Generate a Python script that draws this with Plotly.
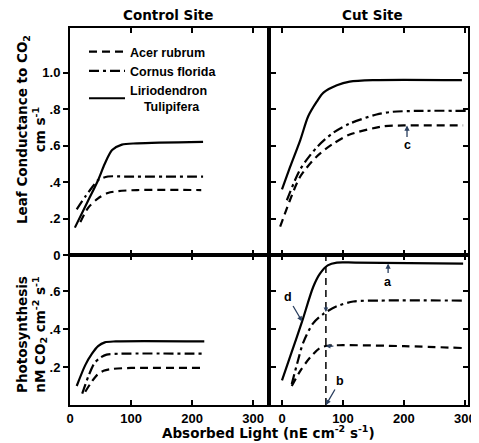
import plotly.graph_objects as go

# ---------------- data ----------------
species = ["Acer rubrum", "Cornus florida", "Liriodendron<br>\u00a0\u00a0\u00a0\u00a0Tulipifera"]

# Control site, leaf conductance
ctl_cond_acer_x = [17, 30, 46, 62, 79, 110, 215]
ctl_cond_acer_y = [0.18, 0.26, 0.31, 0.34, 0.35, 0.356, 0.356]
ctl_cond_corn_x = [11, 25, 36, 46, 62, 90, 218]
ctl_cond_corn_y = [0.25, 0.32, 0.37, 0.41, 0.43, 0.43, 0.43]
ctl_cond_lir_x = [8, 30, 46, 57, 69, 85, 110, 218]
ctl_cond_lir_y = [0.15, 0.30, 0.41, 0.50, 0.575, 0.605, 0.612, 0.62]

# Cut site, leaf conductance
cut_cond_acer_x = [-3, 13, 30, 57, 84, 111, 166, 200, 297]
cut_cond_acer_y = [0.155, 0.30, 0.43, 0.54, 0.61, 0.66, 0.705, 0.71, 0.71]
cut_cond_corn_x = [8, 30, 57, 84, 111, 155, 182, 230, 303]
cut_cond_corn_y = [0.30, 0.47, 0.59, 0.67, 0.72, 0.77, 0.785, 0.79, 0.79]
cut_cond_lir_x = [0, 13, 30, 43, 57, 68, 90, 111, 150, 295]
cut_cond_lir_y = [0.36, 0.48, 0.63, 0.76, 0.84, 0.89, 0.93, 0.95, 0.958, 0.958]

# Control site, photosynthesis
ctl_ps_acer_x = [25, 35, 45, 55, 70, 100, 217]
ctl_ps_acer_y = [0.07, 0.12, 0.16, 0.18, 0.19, 0.195, 0.195]
ctl_ps_corn_x = [20, 30, 40, 50, 60, 80, 217]
ctl_ps_corn_y = [0.06, 0.15, 0.22, 0.25, 0.265, 0.27, 0.27]
ctl_ps_lir_x = [11, 25, 36, 46, 57, 75, 220]
ctl_ps_lir_y = [0.10, 0.21, 0.27, 0.31, 0.33, 0.335, 0.335]

# Cut site, photosynthesis
cut_ps_acer_x = [16, 30, 46, 62, 75, 100, 200, 297]
cut_ps_acer_y = [0.10, 0.18, 0.25, 0.30, 0.312, 0.315, 0.31, 0.30]
cut_ps_corn_x = [16, 25, 35, 51, 68, 90, 117, 160, 297]
cut_ps_corn_y = [0.11, 0.22, 0.33, 0.43, 0.48, 0.52, 0.545, 0.55, 0.55]
cut_ps_lir_x = [0, 15, 33, 51, 62, 75, 90, 120, 297]
cut_ps_lir_y = [0.13, 0.27, 0.44, 0.62, 0.69, 0.735, 0.75, 0.75, 0.745]

# vertical reference line (cut site photosynthesis)
ref_light = 72
ref_line_y = [0, 0.78]

# tick labels
x_ticks = [0, 100, 200, 300]
cond_ticks = [0, 0.2, 0.4, 0.6, 0.8, 1.0]
cond_ticktext = ["0", ".2", ".4", ".6", ".8", "1.0"]
ps_ticks = [0.2, 0.4, 0.6]
ps_ticktext = [".2", ".4", ".6"]

# ---------------- figure ----------------
# The page body has an 8px margin, so the figure is drawn 8px in from the window.
OFF = 8
W, H = 479 - OFF, 443 - OFF
FONT = "Liberation Sans"
TFONT = "DejaVu Sans"


def px(x):
    return (x - OFF) / W


def py(y):
    return 1 - (y - OFF) / H


dash_style = "8px,5px"
dashdot_style = "10px,4px,3px,4px"
styles = [dash_style, dashdot_style, "solid"]

fig = go.Figure()

panels = [
    ("x3", "y3", [(ctl_cond_acer_x, ctl_cond_acer_y), (ctl_cond_corn_x, ctl_cond_corn_y), (ctl_cond_lir_x, ctl_cond_lir_y)], True),
    ("x4", "y4", [(cut_cond_acer_x, cut_cond_acer_y), (cut_cond_corn_x, cut_cond_corn_y), (cut_cond_lir_x, cut_cond_lir_y)], False),
    ("x", "y", [(ctl_ps_acer_x, ctl_ps_acer_y), (ctl_ps_corn_x, ctl_ps_corn_y), (ctl_ps_lir_x, ctl_ps_lir_y)], False),
    ("x2", "y2", [(cut_ps_acer_x, cut_ps_acer_y), (cut_ps_corn_x, cut_ps_corn_y), (cut_ps_lir_x, cut_ps_lir_y)], False),
]
for xa, ya, series, show in panels:
    for name, (xs, ys), st in zip(species, series, styles):
        fig.add_trace(go.Scatter(
            x=xs, y=ys, mode="lines", name=name, showlegend=show,
            line=dict(color="black", width=2.2, dash=st, shape="spline", smoothing=0.8),
            xaxis=xa, yaxis=ya,
        ))

fig.add_trace(go.Scatter(
    x=[ref_light, ref_light], y=ref_line_y, mode="lines", showlegend=False,
    line=dict(color="black", width=1.5, dash="7px,5px"), xaxis="x2", yaxis="y2",
))

xl = [px(70), px(269)]
xr = [px(269), px(468)]
yb = [py(405), py(255)]
yt = [py(255), py(28)]

common = dict(showline=True, linecolor="black", linewidth=2, mirror="ticks",
              showgrid=False, zeroline=False, ticklen=5, tickwidth=1.5,
              tickcolor="black",
              tickfont=dict(family=FONT, size=13, color="black", weight="bold"))

fig.update_layout(
    width=W, height=H,
    margin=dict(l=0, r=0, t=0, b=0, autoexpand=False),
    plot_bgcolor="white", paper_bgcolor="white",
    font=dict(family=FONT, color="black", size=12, weight="bold"),
    xaxis=dict(domain=xl, anchor="y", range=[0, 326], tickvals=x_ticks, ticks="inside", **common),
    yaxis=dict(domain=yb, anchor="x", range=[0, 0.79], tickvals=ps_ticks, ticktext=ps_ticktext, ticks="outside", **common),
    xaxis2=dict(domain=xr, anchor="y2", range=[-21.3, 305], tickvals=x_ticks, ticks="inside", **common),
    yaxis2=dict(domain=yb, anchor="x2", range=[0, 0.79], tickvals=ps_ticks, ticks="inside", showticklabels=False, **common),
    xaxis3=dict(domain=xl, anchor="y3", range=[0, 326], tickvals=x_ticks, ticks="inside", showticklabels=False, **common),
    yaxis3=dict(domain=yt, anchor="x3", range=[0, 1.244], tickvals=cond_ticks, ticktext=cond_ticktext, ticks="outside", **common),
    xaxis4=dict(domain=xr, anchor="y4", range=[-21.3, 305], tickvals=x_ticks, ticks="inside", showticklabels=False, **common),
    yaxis4=dict(domain=yt, anchor="x4", range=[0, 1.244], tickvals=cond_ticks, ticks="inside", showticklabels=False, **common),
    legend=dict(x=px(84), y=py(37), xanchor="left", yanchor="top",
                bgcolor="rgba(0,0,0,0)", borderwidth=0, tracegroupgap=0,
                itemwidth=36,
                font=dict(family=FONT, size=12.5, color="black", weight="bold")),
)

ann_font = dict(family=FONT, size=12.5, color="black", weight="bold")
title_font = dict(family=TFONT, size=13.5, color="black", weight="bold")
arrow = dict(showarrow=True, arrowhead=2, arrowsize=0.8, arrowwidth=1.3, font=ann_font)
annotations = [
    dict(text="Control Site", x=px(168), y=py(15), xref="paper", yref="paper",
         xanchor="center", yanchor="middle", showarrow=False, font=title_font),
    dict(text="Cut Site", x=px(372), y=py(15), xref="paper", yref="paper",
         xanchor="center", yanchor="middle", showarrow=False, font=title_font),
    dict(text="Leaf Conductance to CO<sub>2</sub><br>cm s<sup>-1</sup>", x=px(31), y=py(130),
         xref="paper", yref="paper", xanchor="center", yanchor="middle",
         showarrow=False, textangle=-90, font=title_font),
    dict(text="Photosynthesis<br>nM CO<sub>2</sub> cm<sup>-2</sup> s<sup>-1</sup>", x=px(31), y=py(335),
         xref="paper", yref="paper", xanchor="center", yanchor="middle",
         showarrow=False, textangle=-90, font=title_font),
    dict(text="Absorbed Light (nE cm<sup>-2</sup> s<sup>-1</sup>)", x=px(268), y=py(432),
         xref="paper", yref="paper", xanchor="center", yanchor="middle",
         showarrow=False, font=title_font),
    # letters
    dict(text="c", x=205, y=0.71, xref="x4", yref="y4", ax=0, ay=20, **arrow),
    dict(text="a", x=174, y=0.745, xref="x2", yref="y2", ax=0, ay=18, **arrow),
    dict(text="b", x=ref_light, y=0, xref="x2", yref="y2", ax=14, ay=-24, **arrow),
    dict(text="d", x=33, y=0.44, xref="x2", yref="y2", ax=-14, ay=-24, **arrow),
    # small arrowheads on the reference line
    dict(text="", x=ref_light, y=0.49, xref="x2", yref="y2", ax=0, ay=-7,
         showarrow=True, arrowhead=2, arrowsize=0.7, arrowwidth=1.3),
    dict(text="", x=ref_light, y=0.31, xref="x2", yref="y2", ax=9, ay=0,
         showarrow=True, arrowhead=2, arrowsize=0.7, arrowwidth=1.3),
]
fig.update_layout(annotations=annotations)

fig.write_html("out.html")
